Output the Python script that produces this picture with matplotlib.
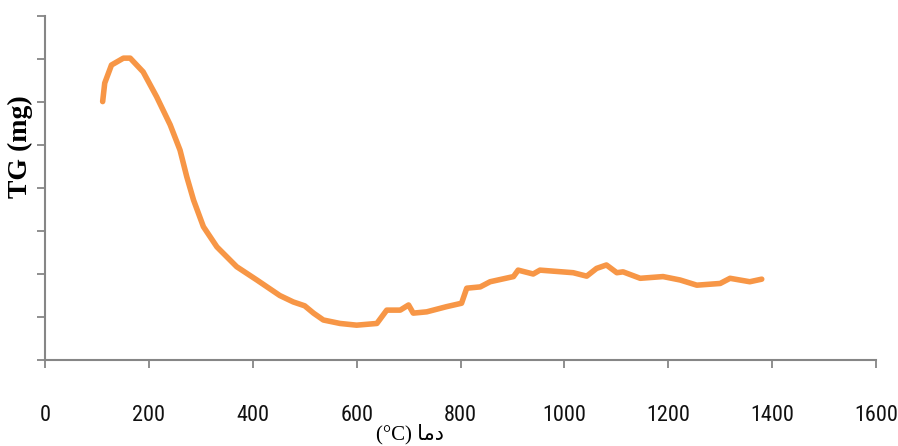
import numpy as np
import matplotlib
matplotlib.use("Agg")
import matplotlib.pyplot as plt
from matplotlib import font_manager

# TG curve (temperature in C, TG in axis units 0..8)
temp = [111, 115, 128, 151, 164, 189, 215, 241, 260, 273, 286, 305, 331, 369,
        408, 452, 478, 500, 517, 536, 568, 600, 639, 658, 684, 700, 709, 735,
        773, 802, 812, 838, 857, 902, 911, 940, 953, 1017, 1043, 1062, 1081,
        1101, 1113, 1146, 1190, 1223, 1255, 1300, 1319, 1357, 1380]
tg = [6.01, 6.44, 6.86, 7.02, 7.02, 6.70, 6.12, 5.47, 4.88, 4.26, 3.72, 3.10,
      2.63, 2.17, 1.86, 1.50, 1.35, 1.26, 1.09, 0.93, 0.85, 0.81, 0.85, 1.16,
      1.16, 1.28, 1.09, 1.12, 1.24, 1.32, 1.67, 1.70, 1.82, 1.94, 2.09, 2.00,
      2.09, 2.03, 1.95, 2.13, 2.21, 2.03, 2.05, 1.90, 1.94, 1.86, 1.74, 1.78,
      1.90, 1.82, 1.88]

xticks = [0, 200, 400, 600, 800, 1000, 1200, 1400, 1600]
yticks = [0, 1, 2, 3, 4, 5, 6, 7, 8]

axis_grey = "#868686"

# pick a narrow face for the tick numbers if one is there
installed = {f.name for f in font_manager.fontManager.ttflist}
narrow = "Roboto"
for name in ["Liberation Sans Narrow", "Roboto Condensed", "Open Sans Condensed",
             "DejaVu Sans Condensed"]:
    if name in installed:
        narrow = name
        break

fig = plt.figure(figsize=(8.98, 4.46), dpi=100)
ax = fig.add_axes([45/898, 1-360/446, (876-45)/898, (360-16)/446])

ax.plot(temp, tg, color="#F79646", lw=4, solid_capstyle="round",
        solid_joinstyle="round")

ax.set_xlim(0, 1600)
ax.set_ylim(0, 8)
ax.set_xticks(xticks)
ax.set_yticks(yticks)
ax.set_yticklabels([])
ax.set_xticklabels([str(t) for t in xticks],
                   fontdict={"family": narrow, "size": 16})

for s in ["top", "right"]:
    ax.spines[s].set_visible(False)
for s in ["left", "bottom"]:
    ax.spines[s].set_color(axis_grey)
    ax.spines[s].set_linewidth(1.5)
ax.tick_params(axis="both", direction="out", length=5.5, width=1.3,
               color=axis_grey)
ax.tick_params(axis="x", pad=27, labelcolor="#111111")

fig.text(20/898, 1-147/446, "TG (mg)", rotation=90, ha="center", va="center",
         family="Liberation Serif", fontweight="bold", fontsize=20)

# x label: "(°C) دما" (Arabic written with presentation forms, visual order)
fig.text(410/898, 1-434/446, "(°C) \uFE8E\uFEE3\uFEA9", ha="center",
         va="center", fontsize=15, family=["Liberation Serif", "DejaVu Sans"])

fig.savefig("out.png", dpi=100)
